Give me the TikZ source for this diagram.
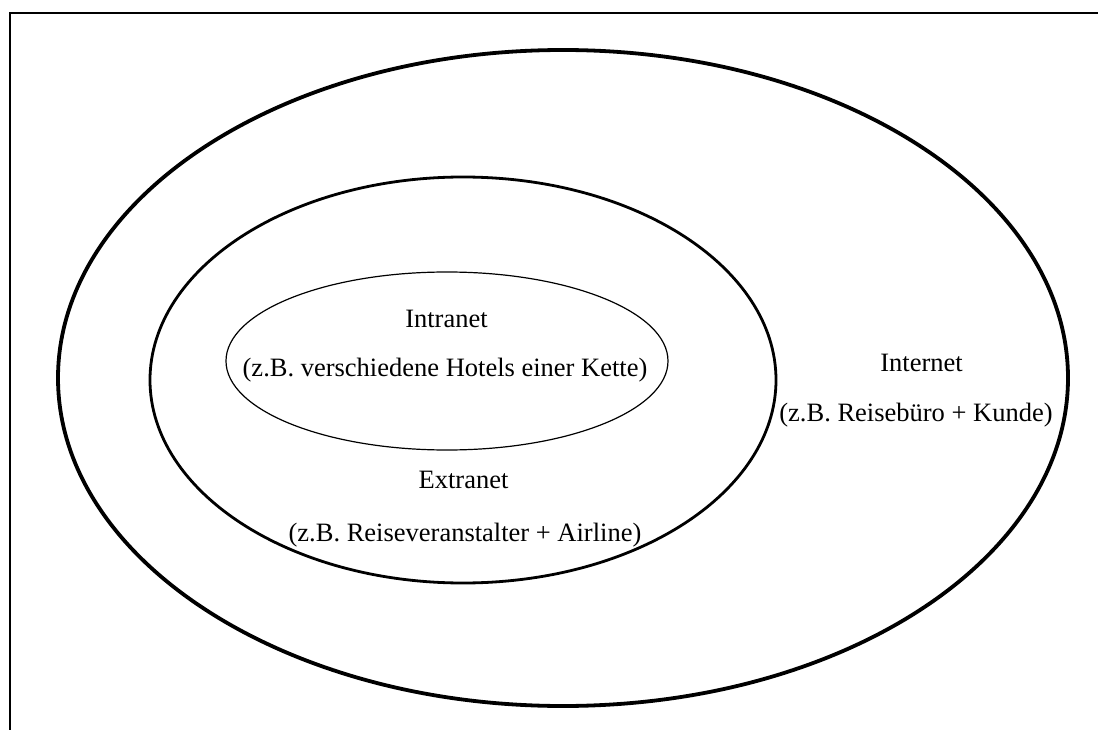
\documentclass[tikz,border=0pt]{standalone}
\usepackage{fontspec}
\setmainfont{Liberation Serif}
\usetikzlibrary{shapes.geometric}

\begin{document}
\begin{tikzpicture}[x=1pt,y=-1pt,every node/.style={font=\fontsize{26.5}{30}\selectfont,anchor=base,inner sep=0pt},
  ring/.style={ellipse,draw,inner sep=0pt,outer sep=0pt,anchor=center}]
\useasboundingbox (0,0) rectangle (1098,730);
% frame
\draw[line width=1.6pt] (10,730) -- (10,13) -- (1098,13);

\node[ring,line width=3.8pt,minimum width=1010pt,minimum height=656pt] (internet) at (563,378) {};
\node[ring,line width=2.8pt,minimum width=626pt,minimum height=406pt] (extranet) at (463,380) {};
\node[ring,line width=1.2pt,minimum width=442pt,minimum height=178pt] (intranet) at (447,361) {};

\node (intra) at (446.5,327) {Intranet};
\node (intraex) at (445,376) {(z.B. verschiedene Hotels einer Kette)};
\node (extra) at (463.5,488) {Extranet};
\node (extraex) at (465,541) {(z.B. Reiseveranstalter + Airline)};
\node (inter) at (921.5,371) {Internet};
\node (interex) at (916,421) {(z.B. Reisebüro + Kunde)};
\end{tikzpicture}
\end{document}
